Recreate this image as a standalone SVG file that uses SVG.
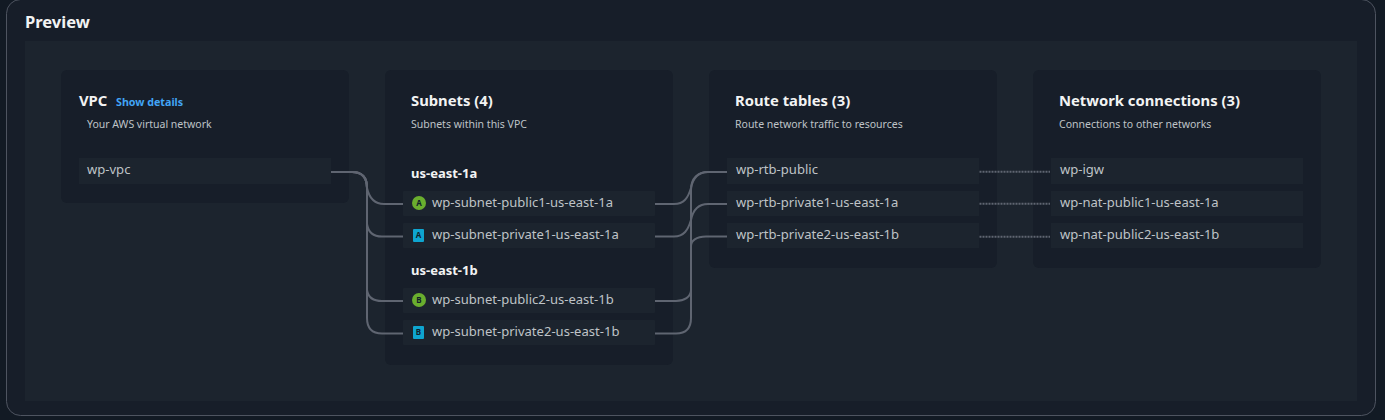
<svg xmlns="http://www.w3.org/2000/svg" width="1385" height="420" viewBox="0 0 1385 420">
<style>
text{font-family:"Noto Sans","Liberation Sans",sans-serif}
.card{fill:#171e29}
.row{fill:#1c242e}
.h{font-size:14.800px;font-weight:700;fill:#f2f3f3}
.az{font-size:13px;font-weight:700;fill:#f2f3f3}
.d{font-size:10.500px;fill:#bfc3c7}
.t{font-size:13.050px;fill:#bfc3c7}
.c{fill:none;stroke:#5f6571;stroke-width:2}
.k{fill:none;stroke:#5f6571;stroke-width:2;stroke-dasharray:2 1}
.b{font-size:8px;font-weight:700;fill:#10202a;text-anchor:middle}
</style>
<rect width="1385" height="420" fill="#121a24"/>
<rect x="6.500" y="-0.500" width="1369" height="416" rx="14" fill="#171e29" stroke="#4e5460"/>
<text x="25" y="28" font-size="16.500" font-weight="700" fill="#f2f3f3">Preview</text>
<rect x="25" y="41" width="1332" height="360" fill="#1c242e"/>
<g id="vpc">
<rect class="card" x="61" y="70" width="288" height="133" rx="6"/>
<text class="h" x="79" y="106" font-size="15">VPC</text>
<text x="116" y="106" font-size="10.700" font-weight="700" fill="#42a5f5">Show details</text>
<text class="d" x="87" y="128">Your AWS virtual network</text>
<rect class="row" x="79" y="158" width="252" height="26"/>
<text class="t" x="87" y="174">wp-vpc</text>
</g>
<g id="subnets">
<rect class="card" x="385" y="70" width="288" height="295" rx="6"/>
<text class="h" x="411" y="106">Subnets (4)</text>
<text class="d" x="411" y="128">Subnets within this VPC</text>
<text class="az" x="411" y="178">us-east-1a</text>
<text class="az" x="411" y="275">us-east-1b</text>
<g id="subnet-public1">
<rect class="row" x="403" y="191" width="252" height="25" rx="1"/>
<circle cx="419" cy="203" r="7" fill="#6aae2e"/><text class="b" x="419" y="206">A</text>
<text class="t" x="432" y="207">wp-subnet-public1-us-east-1a</text>
</g>
<g id="subnet-private1">
<rect class="row" x="403" y="223" width="252" height="25" rx="1"/>
<rect x="413" y="229" width="11" height="13" rx="1" fill="#0ea5d0"/><text class="b" x="418.500" y="238">A</text>
<text class="t" x="432" y="239">wp-subnet-private1-us-east-1a</text>
</g>
<g id="subnet-public2">
<rect class="row" x="403" y="288" width="252" height="25" rx="1"/>
<circle cx="419" cy="300" r="7" fill="#6aae2e"/><text class="b" x="419" y="303">B</text>
<text class="t" x="432" y="304">wp-subnet-public2-us-east-1b</text>
</g>
<g id="subnet-private2">
<rect class="row" x="403" y="320" width="252" height="25" rx="1"/>
<rect x="413" y="326" width="11" height="13" rx="1" fill="#0ea5d0"/><text class="b" x="418.500" y="335">B</text>
<text class="t" x="432" y="336">wp-subnet-private2-us-east-1b</text>
</g>
</g>
<g id="route-tables">
<rect class="card" x="709" y="70" width="288" height="198" rx="6"/>
<text class="h" x="735" y="106">Route tables (3)</text>
<text class="d" x="735" y="128">Route network traffic to resources</text>
<rect class="row" x="727" y="158" width="252" height="26"/>
<text class="t" x="736" y="174">wp-rtb-public</text>
<rect class="row" x="727" y="191" width="252" height="25"/>
<text class="t" x="736" y="207">wp-rtb-private1-us-east-1a</text>
<rect class="row" x="727" y="223" width="252" height="25"/>
<text class="t" x="736" y="239">wp-rtb-private2-us-east-1b</text>
</g>
<g id="network-connections">
<rect class="card" x="1033" y="70" width="288" height="198" rx="6"/>
<text class="h" x="1059" y="106">Network connections (3)</text>
<text class="d" x="1059" y="128">Connections to other networks</text>
<rect class="row" x="1051" y="158" width="252" height="26"/>
<text class="t" x="1060" y="174">wp-igw</text>
<rect class="row" x="1051" y="191" width="252" height="25"/>
<text class="t" x="1060" y="207">wp-nat-public1-us-east-1a</text>
<rect class="row" x="1051" y="223" width="252" height="25"/>
<text class="t" x="1060" y="239">wp-nat-public2-us-east-1b</text>
</g>
<g id="connectors">
<path class="c" d="M331 172H352C362 172 367 178 367 188C369 197 374 204 384 204H403"/>
<path class="c" d="M331 172H352C362 172 367 178 367 188V224C368 231 372 236.500 382 236.500H403"/>
<path class="c" d="M331 172H352C362 172 367 178 367 188V290C368 297 373 301 382 301H403"/>
<path class="c" d="M331 172H352C362 172 367 178 367 188V318C367 328 372 333.500 382 333.500H403"/>
<path class="c" d="M655 204H674C684 204 688 198 691 188C693 178 698 172 708 172H727"/>
<path class="c" d="M655 236.500H674C684 236.500 688 230 691 220C693 210 698 204 708 204H727"/>
<path class="c" d="M655 301H676C684 301 691 297 691 290V246C691 241 696 236.500 706 236.500H727"/>
<path class="c" d="M655 333.500H676C686 333.500 691 328 691 318V190C691 178 698 172 708 172H727"/>
<path class="k" d="M979.500 171.700H1050"/>
<path class="k" d="M979.500 203.700H1050"/>
<path class="k" d="M979.500 236.700H1050"/>
</g>
</svg>
